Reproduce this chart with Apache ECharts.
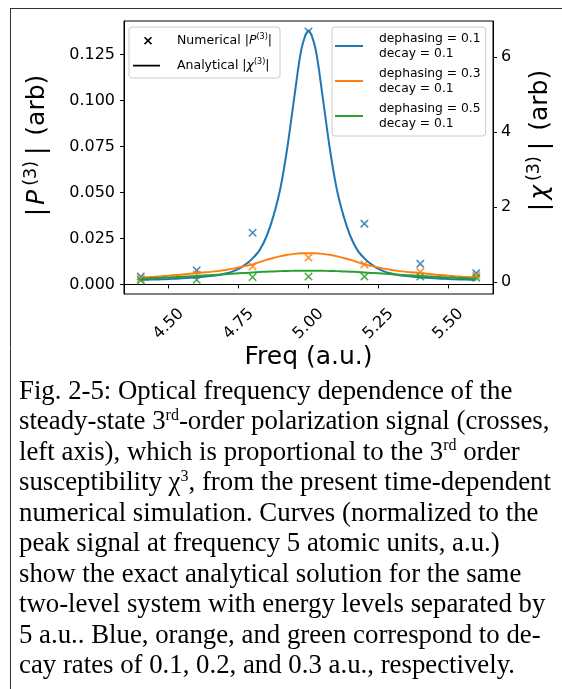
<!DOCTYPE html>
<html>
<head>
<meta charset="utf-8">
<script src="https://cdn.jsdelivr.net/npm/echarts@6/dist/echarts.min.js"></script>
<style>
html,body{margin:0;padding:0;background:#fff;}
#chart{width:562px;height:689px;}
</style>
</head>
<body>
<div id="chart"></div>
<script>
// ---- data ----
const freqCross = [4.4, 4.6, 4.8, 5.0, 5.2, 5.4, 5.6];
const numBlue   = [0.0043, 0.0076, 0.0281, 0.1375, 0.0330, 0.0112, 0.0061];
const numOrange = [0.0031, 0.0054, 0.0098, 0.0146, 0.0109, 0.0067, 0.0049];
const numGreen  = [0.0022, 0.0025, 0.0040, 0.0043, 0.0043, 0.0043, 0.0036];

const freqCurve = [4.4, 4.425, 4.45, 4.475, 4.5, 4.525, 4.55, 4.575, 4.6, 4.625, 4.65, 4.675, 4.7, 4.725, 4.75, 4.775, 4.8, 4.825, 4.85, 4.875, 4.9, 4.925, 4.95, 4.975, 5.0,
                   5.025, 5.05, 5.075, 5.1, 5.125, 5.15, 5.175, 5.2, 5.225, 5.25, 5.275, 5.3, 5.325, 5.35, 5.375, 5.4, 5.425, 5.45, 5.475, 5.5, 5.525, 5.55, 5.575, 5.6];
const anaBlue = [0.057, 0.062, 0.067, 0.073, 0.08, 0.088, 0.098, 0.11, 0.12, 0.14, 0.16, 0.18, 0.22, 0.27, 0.35, 0.47, 0.63, 0.85, 1.22, 1.77, 2.52, 3.62, 4.97, 6.22, 6.71,
                 6.22, 4.97, 3.62, 2.52, 1.77, 1.22, 0.85, 0.63, 0.47, 0.35, 0.27, 0.22, 0.18, 0.16, 0.14, 0.12, 0.11, 0.098, 0.088, 0.08, 0.073, 0.067, 0.062, 0.057];
const anaOrange = [0.12, 0.13, 0.142, 0.155, 0.17, 0.185, 0.2, 0.22, 0.24, 0.255, 0.27, 0.29, 0.32, 0.35, 0.39, 0.43, 0.47, 0.53, 0.59, 0.64, 0.69, 0.725, 0.75, 0.765, 0.77,
                   0.765, 0.75, 0.725, 0.69, 0.64, 0.59, 0.53, 0.47, 0.43, 0.39, 0.35, 0.32, 0.29, 0.27, 0.255, 0.24, 0.22, 0.2, 0.185, 0.17, 0.155, 0.142, 0.13, 0.12];
const anaGreen = [0.09, 0.097, 0.105, 0.113, 0.122, 0.131, 0.141, 0.151, 0.162, 0.173, 0.184, 0.196, 0.208, 0.22, 0.232, 0.243, 0.255, 0.265, 0.275, 0.283, 0.29, 0.295, 0.298, 0.30, 0.30,
                  0.30, 0.298, 0.295, 0.29, 0.283, 0.275, 0.265, 0.255, 0.243, 0.232, 0.22, 0.208, 0.196, 0.184, 0.173, 0.162, 0.151, 0.141, 0.131, 0.122, 0.113, 0.105, 0.097, 0.09];

const xTicks = [4.5, 4.75, 5.0, 5.25, 5.5];
const leftTicks = [0, 0.025, 0.05, 0.075, 0.1, 0.125];
const rightTicks = [0, 2, 4, 6];
const curveNames = ['dephasing = 0.1\ndecay = 0.1', 'dephasing = 0.3\ndecay = 0.1', 'dephasing = 0.5\ndecay = 0.1'];
const leftName = '{b||}{it|P}{sup|(3)}{b||} (arb)';
const rightName = '{b||}{it|\u03c7}{sup|(3)}{b||} (arb)';
const captionLines = [
  'Fig. 2-5: Optical frequency dependence of the',
  'steady-state 3{sup|rd}-order polarization signal (crosses,',
  'left axis), which is proportional to the 3{sup|rd} order',
  'susceptibility \u03c7{sup|3}, from the present time-dependent',
  'numerical simulation. Curves (normalized to the',
  'peak signal at frequency 5 atomic units, a.u.)',
  'show the exact analytical solution for the same',
  'two-level system with energy levels separated by',
  '5 a.u.. Blue, orange, and green correspond to de-',
  'cay rates of 0.1, 0.2, and 0.3 a.u., respectively.'
];

// ---- styling ----
const C = ['#1f77b4', '#ff7f0e', '#2ca02c'];
const FONT = 'DejaVu Sans';
const X_PATH = 'path://M0,1.3 L1.3,0 L5,3.7 L8.7,0 L10,1.3 L6.3,5 L10,8.7 L8.7,10 L5,6.3 L1.3,10 L0,8.7 L3.7,5 Z';
// legend icons in a 39x14 box (tiny specks fix the bounding box)
const SPECK = ' M0,0 L0.01,0 L0,0.01 Z M39,14 L38.99,14 L39,13.99 Z';
const LEG_X = 'path://M11,4.3 L12.1,3.2 L15,6.1 L17.9,3.2 L19,4.3 L16.1,7.2 L19,10.1 L17.9,11.2 L15,8.3 L12.1,11.2 L11,10.1 L13.9,7.2 Z' + SPECK;
const LEG_LINE = 'path://M0,6.2 L27,6.2 L27,8.0 L0,8.0 Z' + SPECK;
const LEG_LINE2 = 'path://M0,6.1 L28,6.1 L28,7.9 L0,7.9 Z' + SPECK;

const chart = echarts.init(document.getElementById('chart'), null, {renderer: 'canvas'});

const nameRich = {
  b: {fontFamily: FONT, fontSize: 25, lineHeight: 30, fill: '#000', padding: [0, 3, 0, 3]},
  it: {fontFamily: FONT, fontStyle: 'italic', fontSize: 25, lineHeight: 30, fill: '#000', padding: [0, 2, 0, 0]},
  sup: {fontFamily: FONT, fontSize: 17.5, lineHeight: 17, verticalAlign: 'top', fill: '#000', padding: [0, 3, 0, 2]}
};

const series = [];
const numSets = [numBlue, numOrange, numGreen];
const anaSets = [anaBlue, anaOrange, anaGreen];
for (let i = 0; i < 3; i++) {
  series.push({
    name: 'num' + i, type: 'scatter', yAxisIndex: 0,
    data: freqCross.map((f, k) => [f, numSets[i][k]]),
    symbol: X_PATH, symbolSize: 8.5,
    itemStyle: {color: C[i], opacity: 0.85}, z: 3
  });
}
for (let i = 0; i < 3; i++) {
  series.push({
    name: curveNames[i], type: 'line', yAxisIndex: 1,
    data: freqCurve.map((f, k) => [f, anaSets[i][k]]),
    showSymbol: false, symbol: 'none', smooth: 0.3,
    lineStyle: {color: C[i], width: 2}, itemStyle: {color: C[i]}, z: 4
  });
}
series.push({name: 'Numerical', type: 'line', data: [], itemStyle: {color: '#000'}, lineStyle: {color: '#000'}});
series.push({name: 'Analytical', type: 'line', data: [], itemStyle: {color: '#000'}, lineStyle: {color: '#000'}});

const nameText = (t, x, y) => ({
  type: 'text', x: x, y: y, rotation: Math.PI / 2, silent: true,
  style: {text: t, x: 0, y: 0, align: 'center', verticalAlign: 'middle',
          font: '25px "DejaVu Sans"', fill: '#000', lineHeight: 30, rich: nameRich}
});

const option = {
  animation: false,
  backgroundColor: '#fff',
  textStyle: {fontFamily: FONT},
  grid: {left: 124, right: 69, top: 21, bottom: 395, show: true, borderColor: '#000', borderWidth: 1, containLabel: false},
  xAxis: {
    type: 'value', min: 4.34, max: 5.66,
    axisLine: {show: true, lineStyle: {color: '#000', width: 1}},
    axisTick: {show: true, length: 4, lineStyle: {color: '#000'}, customValues: xTicks},
    axisLabel: {
      customValues: xTicks, rotate: 45, align: 'center', verticalAlign: 'middle', margin: 30,
      fontSize: 16, color: '#000', fontFamily: FONT,
      formatter: v => Number(v).toFixed(2)
    },
    splitLine: {show: false},
    name: 'Freq (a.u.)', nameLocation: 'middle', nameGap: 51,
    nameTextStyle: {fontSize: 25, color: '#000', fontFamily: FONT}
  },
  yAxis: [
    {
      type: 'value', min: -0.0052, max: 0.1432, position: 'left',
      axisLine: {show: true, lineStyle: {color: '#000'}},
      axisTick: {show: true, length: 4, lineStyle: {color: '#000'}, customValues: leftTicks},
      axisLabel: {customValues: leftTicks, fontSize: 16, color: '#000', margin: 9, fontFamily: FONT,
                  formatter: v => Number(v).toFixed(3)},
      splitLine: {show: false}
    },
    {
      type: 'value', min: -0.32, max: 6.96, position: 'right',
      axisLine: {show: true, lineStyle: {color: '#000'}},
      axisTick: {show: true, length: 4, lineStyle: {color: '#000'}, customValues: rightTicks},
      axisLabel: {customValues: rightTicks, fontSize: 16, color: '#000', margin: 8, fontFamily: FONT,
                  formatter: v => String(Math.round(v))},
      splitLine: {show: false}
    }
  ],
  legend: [
    {
      left: 129, top: 27, orient: 'vertical', selectedMode: false,
      padding: [6, 8, 5, 4], itemGap: 10, itemWidth: 39, itemHeight: 14,
      borderColor: '#ccc', borderWidth: 1, borderRadius: 3, backgroundColor: 'rgba(255,255,255,0.85)',
      data: [
        {name: 'Numerical', icon: LEG_X, itemStyle: {color: '#000'}},
        {name: 'Analytical', icon: LEG_LINE, itemStyle: {color: '#000'}}
      ],
      formatter: n => n === 'Numerical' ? 'Numerical |{i|P}{s|(3)}|' : 'Analytical |{i|\u03c7}{s|(3)}|',
      textStyle: {fontSize: 12.5, color: '#000', fontFamily: FONT, lineHeight: 15,
        rich: {i: {fontStyle: 'italic', fontSize: 12.5, lineHeight: 15, fontFamily: FONT, color: '#000'},
               s: {fontSize: 8, lineHeight: 8, verticalAlign: 'top', fontFamily: FONT, color: '#000'}}}
    },
    {
      left: 332, top: 27, orient: 'vertical', selectedMode: false,
      padding: [4, 5, 5, 3], itemGap: 5, itemWidth: 39, itemHeight: 14,
      borderColor: '#ccc', borderWidth: 1, borderRadius: 3, backgroundColor: 'rgba(255,255,255,0.85)',
      data: curveNames.map(n => ({name: n, icon: LEG_LINE2})),
      textStyle: {fontSize: 12.3, color: '#000', fontFamily: FONT, lineHeight: 15}
    }
  ],
  graphic: [
    {type: 'line', shape: {x1: 10.5, y1: 8, x2: 10.5, y2: 689}, style: {stroke: '#333', lineWidth: 1}, silent: true},
    {type: 'line', shape: {x1: 10, y1: 8.5, x2: 562, y2: 8.5}, style: {stroke: '#333', lineWidth: 1}, silent: true},
    nameText(leftName, 37, 147),
    nameText(rightName, 540, 142)
  ].concat(captionLines.map((t, i) => ({
    type: 'text', left: 19, top: 377 + i * 30.45, silent: true,
    style: {
      text: t, fill: '#000', font: '26.8px "Liberation Serif"', lineHeight: 30,
      rich: {sup: {fontSize: 16, lineHeight: 16, verticalAlign: 'top', fontFamily: 'Liberation Serif', fill: '#000'}}
    }
  }))),
  series: series
};
chart.setOption(option);
</script>
</body>
</html>
